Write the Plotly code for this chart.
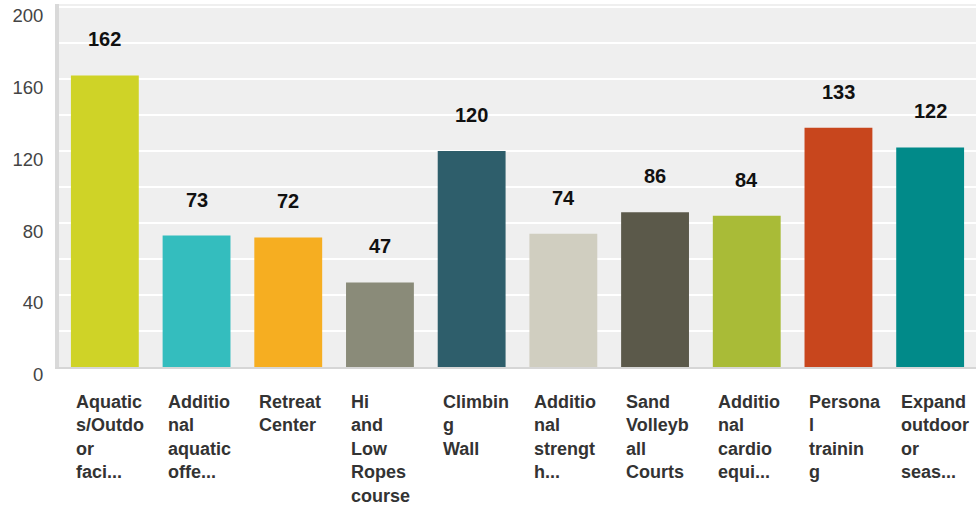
import plotly.graph_objects as go

# Survey responses per amenity
categories = [
    "Aquatics/Outdoor facilities",
    "Additional aquatic offerings",
    "Retreat Center",
    "Hi and Low Ropes course",
    "Climbing Wall",
    "Additional strength",
    "Sand Volleyball Courts",
    "Additional cardio equipment",
    "Personal training",
    "Expand outdoor or seasonal",
]
# Wrapped/truncated axis labels as displayed
label_lines = [
    ["Aquatic", "s/Outdo", "or", "faci..."],
    ["Additio", "nal", "aquatic", "offe..."],
    ["Retreat", "Center"],
    ["Hi", "and", "Low", "Ropes", "course"],
    ["Climbin", "g", "Wall"],
    ["Additio", "nal", "strengt", "h..."],
    ["Sand", "Volleyb", "all", "Courts"],
    ["Additio", "nal", "cardio", "equi..."],
    ["Persona", "l", "trainin", "g"],
    ["Expand", "outdoor", "or", "seas..."],
]
values = [162, 73, 72, 47, 120, 74, 86, 84, 133, 122]
colors = ["#CFD327", "#34BDBE", "#F6AE21", "#8A8B79", "#2E5E6B",
          "#D0CEC0", "#5B594A", "#A9BB37", "#C8461D", "#018A89"]
y_ticks = [0, 40, 80, 120, 160, 200]

FONT = "Arial, 'Liberation Sans', Helvetica, sans-serif"

fig = go.Figure(
    go.Bar(
        x=categories,
        y=values,
        marker=dict(color=colors, line=dict(width=0)),
        hoverinfo="x+y",
    )
)

# Value labels above each bar
for cat, v in zip(categories, values):
    fig.add_annotation(
        x=cat, y=v, xref="x", yref="y",
        text=f"<b>{v}</b>", showarrow=False,
        yanchor="middle", yshift=36,
        font=dict(family=FONT, size=20, color="#111111"),
    )

# Left-aligned, wrapped category labels under the axis
for cat, lines in zip(categories, label_lines):
    fig.add_annotation(
        x=cat, y=0, xref="x", yref="paper",
        text="<b>" + "<br>".join(lines) + "</b>", showarrow=False,
        xanchor="left", yanchor="top", align="left",
        xshift=-31, yshift=-23,
        font=dict(family=FONT, size=18, color="#333333"),
    )

fig.update_layout(
    width=979, height=510,
    margin=dict(l=59, r=3, t=4, b=143),
    paper_bgcolor="white",
    plot_bgcolor="#EFEFEF",
    bargap=0.26,
    showlegend=False,
    font=dict(family=FONT),
    xaxis=dict(
        showticklabels=False, showgrid=False, zeroline=False,
        showline=True, linecolor="#D6D6D6", linewidth=2,
        fixedrange=True,
    ),
    yaxis=dict(
        range=[0, 201.7],
        tickvals=y_ticks,
        ticktext=[str(t) for t in y_ticks],
        showgrid=True, gridcolor="white", gridwidth=2,
        minor=dict(dtick=20, showgrid=True, gridcolor="white", gridwidth=2),
        zeroline=False,
        showline=True, linecolor="#D9D9D9", linewidth=4,
        ticks="",
        ticklabelstandoff=8,
        ticklabelshift=8,
        tickfont=dict(family=FONT, size=18.5, color="#444444"),
        fixedrange=True,
    ),
)

fig.write_html("out.html")
